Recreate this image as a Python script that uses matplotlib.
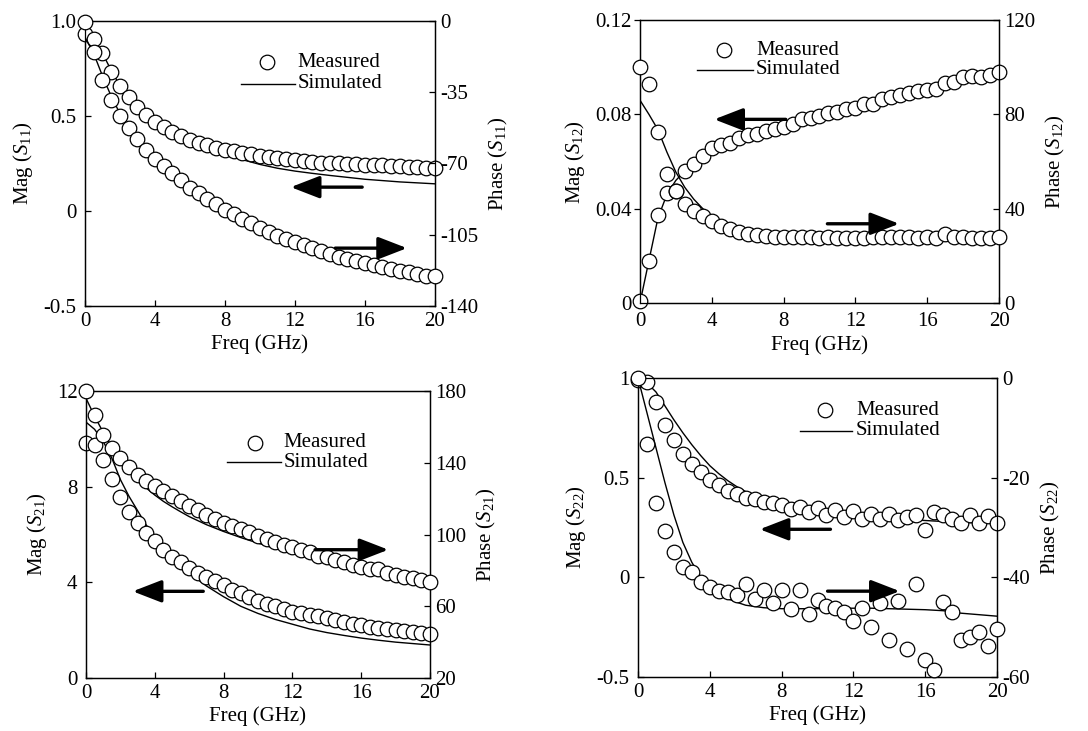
import numpy as np
import matplotlib
matplotlib.use('Agg')
import matplotlib.pyplot as plt

plt.rcParams['font.family'] = ['Liberation Serif', 'DejaVu Serif']
plt.rcParams['mathtext.fontset'] = 'custom'
plt.rcParams['mathtext.rm'] = 'Liberation Serif'
plt.rcParams['mathtext.it'] = 'Liberation Serif:italic'
plt.rcParams['axes.unicode_minus'] = False

# ---------------- data ----------------
freq = [0, 0.5, 1, 1.5, 2, 2.5, 3, 3.5, 4, 4.5, 5, 5.5, 6, 6.5, 7, 7.5, 8, 8.5, 9, 9.5,
        10, 10.5, 11, 11.5, 12, 12.5, 13, 13.5, 14, 14.5, 15, 15.5, 16, 16.5, 17, 17.5,
        18, 18.5, 19, 19.5, 20]
x_ticks = [0, 4, 8, 12, 16, 20]
x_labels = ['0', '4', '8', '12', '16', '20']

# S11
s11_mag_meas = [0.93, 0.904, 0.83, 0.729, 0.656, 0.60, 0.547, 0.503, 0.467, 0.442, 0.414,
                0.393, 0.376, 0.358, 0.346, 0.332, 0.323, 0.315, 0.306, 0.299, 0.292, 0.285,
                0.281, 0.276, 0.269, 0.264, 0.259, 0.255, 0.253, 0.250, 0.248, 0.246, 0.243,
                0.241, 0.240, 0.238, 0.236, 0.233, 0.231, 0.227, 0.227]
s11_ph_meas = [-0.3, -15.3, -28.9, -38.7, -46.5, -52.5, -57.9, -63.6, -67.7, -71.3, -74.9,
               -78.3, -81.9, -84.4, -87.6, -90.1, -92.8, -95.0, -97.4, -99.4, -101.6, -103.6,
               -105.6, -107.2, -108.8, -110.1, -111.6, -112.9, -114.5, -115.7, -117.0, -118.1,
               -119.1, -119.9, -120.9, -121.9, -122.7, -123.5, -124.3, -125.1, -125.5]
s11_sim_f = [0, 0.5, 1, 1.5, 2, 2.5, 3, 3.5, 4, 5, 6, 7, 8, 9, 10, 11, 12, 13, 14, 15, 16, 17, 18, 19, 20]
s11_mag_sim = [0.95, 0.90, 0.83, 0.74, 0.66, 0.60, 0.545, 0.50, 0.465, 0.41, 0.37, 0.34, 0.305,
               0.27, 0.245, 0.225, 0.21, 0.198, 0.187, 0.177, 0.167, 0.160, 0.153, 0.148, 0.143]
s11_ph_sim = [-8, -16, -27, -37, -45.5, -52, -57.5, -63, -67.5, -75, -82, -87.6, -93, -97.5,
              -102, -105.5, -109, -112, -115, -117.5, -119.5, -121.3, -123, -124.5, -126]

# S12
s12_mag_meas = [0.0007, 0.0178, 0.0374, 0.0465, 0.0475, 0.0560, 0.0590, 0.0625, 0.0657, 0.0668,
                0.0680, 0.0699, 0.0713, 0.0717, 0.0730, 0.0738, 0.0748, 0.0760, 0.0779, 0.0784,
                0.0793, 0.0805, 0.0812, 0.0822, 0.0826, 0.0843, 0.0843, 0.0865, 0.0875, 0.0882,
                0.0892, 0.0897, 0.0904, 0.0906, 0.0932, 0.0939, 0.0957, 0.0963, 0.0960, 0.0967,
                0.0981]
s12_ph_meas = [100.2, 92.8, 72.4, 54.8, 47.3, 42.1, 39.2, 37.0, 34.6, 32.8, 31.3, 30.1, 29.4,
               28.8, 28.5, 28.2, 28.2, 28.1, 28.0, 27.8, 27.4, 27.8, 27.5, 27.5, 27.5, 27.7,
               28.2, 28.2, 28.2, 28.1, 28.1, 27.7, 28.0, 27.7, 29.2, 28.2, 28.2, 27.5, 27.5,
               27.5, 28.0]
s12_sim_f = [0, 0.5, 1, 1.5, 2, 2.5, 3, 3.5, 4, 5, 6, 7, 8, 10, 12, 14, 16, 18, 20]
s12_mag_sim = [0.0, 0.018, 0.036, 0.046, 0.052, 0.056, 0.059, 0.062, 0.065, 0.069, 0.071, 0.073,
               0.075, 0.079, 0.083, 0.087, 0.090, 0.094, 0.097]
s12_ph_sim = [86, 80, 73.5, 64, 55.5, 49, 44, 40, 37, 33, 30.5, 29, 28.3, 28, 28, 28, 28, 28, 28]

# S21
s21_mag_meas = [9.81, 9.75, 9.12, 8.31, 7.55, 6.96, 6.47, 6.06, 5.71, 5.36, 5.08, 4.84, 4.62,
                4.38, 4.22, 4.07, 3.87, 3.69, 3.55, 3.37, 3.23, 3.09, 2.99, 2.88, 2.78, 2.71,
                2.62, 2.58, 2.51, 2.44, 2.34, 2.27, 2.20, 2.13, 2.09, 2.05, 2.02, 1.98, 1.92,
                1.87, 1.84]
s21_ph_meas = [180, 166.6, 155.5, 148.4, 142.5, 137.9, 133.2, 130.1, 127.1, 124.3, 121.5, 118.7,
               116.1, 113.4, 111.0, 108.7, 106.3, 104.5, 103.0, 101.3, 99.3, 97.6, 95.7, 94.2,
               92.8, 91.3, 90.0, 88.1, 87.2, 85.9, 84.6, 82.9, 81.8, 80.9, 80.7, 78.8, 77.5,
               76.4, 75.5, 74.8, 73.8]
s21_sim_f = [0, 0.5, 1, 1.5, 2, 2.5, 3, 3.5, 4, 4.5, 5, 5.5, 6, 7, 8, 9, 10, 11, 12, 13, 14,
             15, 16, 17, 18, 19, 20]
s21_mag_sim = [10.7, 10.4, 9.9, 9.2, 8.3, 7.6, 7.0, 6.4, 5.9, 5.45, 5.05, 4.7, 4.4, 3.85, 3.4,
               3.0, 2.7, 2.45, 2.25, 2.05, 1.9, 1.78, 1.67, 1.58, 1.5, 1.44, 1.38]
s21_ph_sim = [176, 166, 157, 149, 142, 136, 130.5, 126, 122, 118.5, 115.5, 112.7, 110, 105.5,
              101.7, 98.3, 95.2, 92.3, 89.6, 87.6, 86.2, 84.5, 82.4, 80.4, 78.5, 76.4, 74.3]

# S22
s22_mag_meas = [0.988, 0.98, 0.88, 0.766, 0.687, 0.62, 0.567, 0.528, 0.487, 0.462, 0.431,
                0.42, 0.40, 0.395, 0.378, 0.375, 0.361, 0.344, 0.353, 0.328, 0.348, 0.311,
                0.339, 0.303, 0.333, 0.294, 0.316, 0.291, 0.319, 0.286, 0.303, 0.311, 0.236,
                0.328, 0.311, 0.291, 0.273, 0.311, 0.274, 0.306, 0.274]
s22_ph_meas = [-0.1, -13.2, -25.0, -30.7, -34.9, -37.9, -38.9, -40.9, -41.9, -42.8, -42.9,
               -43.5, -41.3, -44.3, -42.6, -45.2, -42.6, -46.4, -42.6, -47.3, -44.6, -45.8,
               -46.2, -47.0, -48.8, -46.1, -50.0, -45.2, -52.6, -44.8, -54.3, -41.3, -56.5,
               -58.5, -45.0, -47.0, -52.6, -52.0, -51.0, -53.7, -50.3]
s22_sim_f = [0, 0.5, 1, 1.5, 2, 2.5, 3, 3.5, 4, 4.5, 5, 5.5, 6, 7, 8, 9, 10, 11, 12, 13, 14,
             15, 16, 17, 18, 19, 20]
s22_mag_sim = [1.0, 0.975, 0.93, 0.86, 0.79, 0.725, 0.665, 0.61, 0.56, 0.52, 0.485, 0.455,
               0.43, 0.393, 0.365, 0.345, 0.33, 0.318, 0.31, 0.303, 0.297, 0.29, 0.285, 0.28,
               0.276, 0.273, 0.27]
s22_ph_sim = [0, -7, -14, -21, -27.5, -33, -37, -40, -42, -43.3, -44.3, -45.0, -45.6, -46.1,
              -46.3, -46.3, -46.3, -46.2, -46.2, -46.2, -46.3, -46.4, -46.5, -46.7, -47.2,
              -47.5, -47.8]

panels = [
    dict(rect=[0.0781, 0.5814, 0.3217, 0.3899], name='11', ldir='in', xpad=4,
         mag=s11_mag_meas, ph=s11_ph_meas, sf=s11_sim_f, msim=s11_mag_sim, psim=s11_ph_sim,
         mlim=(-0.5, 1.0), mticks=[-0.5, 0, 0.5, 1.0], mlabels=['-0.5', '0', '0.5', '1.0'],
         plim=(-140, 0), pticks=[-140, -105, -70, -35, 0], plabels=['-140', '-105', '-70', '-35', '0'],
         leg=(0.519, 0.855, 0.607, 0.445, 0.599, 0.78),
         arrows=[((0.792, 0.417), (0.588, 0.417)), ((0.715, 0.203), (0.92, 0.203))]),
    dict(rect=[0.5882, 0.5855, 0.33, 0.3871], name='12', ldir='out', xpad=6.5,
         mag=s12_mag_meas, ph=s12_ph_meas, sf=s12_sim_f, msim=s12_mag_sim, psim=s12_ph_sim,
         mlim=(0, 0.12), mticks=[0, 0.04, 0.08, 0.12], mlabels=['0', '0.04', '0.08', '0.12'],
         plim=(0, 120), pticks=[0, 40, 80, 120], plabels=['0', '40', '80', '120'],
         leg=(0.235, 0.894, 0.323, 0.16, 0.314, 0.824),
         arrows=[((0.406, 0.649), (0.207, 0.649)), ((0.522, 0.28), (0.722, 0.28))]),
    dict(rect=[0.079, 0.0725, 0.3162, 0.3926], name='21', ldir='in', xpad=4,
         mag=s21_mag_meas, ph=s21_ph_meas, sf=s21_sim_f, msim=s21_mag_sim, psim=s21_ph_sim,
         mlim=(0, 12), mticks=[0, 4, 8, 12], mlabels=['0', '4', '8', '12'],
         plim=(20, 180), pticks=[20, 60, 100, 140, 180], plabels=['20', '60', '100', '140', '180'],
         leg=(0.491, 0.82, 0.574, 0.411, 0.566, 0.752),
         arrows=[((0.666, 0.447), (0.879, 0.447)), ((0.341, 0.302), (0.136, 0.302))]),
    dict(rect=[0.5864, 0.0739, 0.33, 0.409], name='22', ldir='in', xpad=4,
         mag=s22_mag_meas, ph=s22_ph_meas, sf=s22_sim_f, msim=s22_mag_sim, psim=s22_ph_sim,
         mlim=(-0.5, 1.0), mticks=[-0.5, 0, 0.5, 1.0], mlabels=['-0.5', '0', '0.5', '1'],
         plim=(-60, 0), pticks=[-60, -40, -20, 0], plabels=['-60', '-40', '-20', '0'],
         leg=(0.52, 0.892, 0.607, 0.45, 0.596, 0.823),
         arrows=[((0.536, 0.494), (0.339, 0.494)), ((0.528, 0.287), (0.729, 0.287))]),
]

FS = 15
fig = plt.figure(figsize=(10.88, 7.31), dpi=100)

for p in panels:
    ax = fig.add_axes(p['rect'])
    ax2 = ax.twinx()
    lw_line = 1.0
    mk = dict(marker='o', ms=10.5, mfc='white', mec='black', mew=0.9, ls='none')

    ax.plot(p['sf'], p['msim'], color='black', lw=lw_line, zorder=2)
    ax.plot(freq, p['mag'], zorder=3, clip_on=False, **mk)
    ax2.plot(p['sf'], p['psim'], color='black', lw=lw_line, zorder=2)
    ax2.plot(freq, p['ph'], zorder=3, clip_on=False, **mk)

    ax.set_xlim(0, 20)
    ax.set_ylim(*p['mlim'])
    ax2.set_ylim(*p['plim'])
    ax.set_xticks(x_ticks)
    ax.set_xticklabels(x_labels, fontsize=FS)
    ax.set_yticks(p['mticks'])
    ax.set_yticklabels(p['mlabels'], fontsize=FS)
    ax2.set_yticks(p['pticks'])
    ax2.set_yticklabels(p['plabels'], fontsize=FS)

    for a in (ax, ax2):
        for s in a.spines.values():
            s.set_linewidth(0.9)
    ax.tick_params(axis='x', direction='in', length=4, width=0.9, pad=p['xpad'], top=False)
    if p['ldir'] == 'in':
        ax.tick_params(axis='y', direction='in', length=4, width=0.9, pad=6)
    else:
        ax.tick_params(axis='y', direction='out', length=4, width=0.9, pad=2)
    ax2.tick_params(axis='y', direction='in', length=4, width=0.9, pad=4)

    ax.set_xlabel('Freq (GHz)', fontsize=FS, labelpad=3)
    ax.set_ylabel(r'Mag ($\mathit{S}_{%s}$)' % p['name'], fontsize=FS, labelpad=6)
    ax2.set_ylabel(r'Phase ($\mathit{S}_{%s}$)' % p['name'], fontsize=FS, rotation=90,
                   labelpad=6)

    cx, cy, tx, lx0, lx1, ly = p['leg']
    ax2.plot([cx], [cy], transform=ax2.transAxes, clip_on=False, **mk)
    ax2.text(tx, cy, 'Measured', transform=ax2.transAxes, fontsize=FS, va='center', ha='left')
    ax2.plot([lx0, lx1], [ly, ly], transform=ax2.transAxes, color='black', lw=lw_line)
    ax2.text(tx, ly, 'Simulated', transform=ax2.transAxes, fontsize=FS, va='center', ha='left')

    for tail, tip in p['arrows']:
        ax2.annotate('', xy=tip, xytext=tail, xycoords='axes fraction',
                     textcoords='axes fraction', zorder=5,
                     arrowprops=dict(arrowstyle='-|>,head_length=1.6,head_width=0.62',
                                     mutation_scale=11, lw=2.4, color='black',
                                     shrinkA=0, shrinkB=0))

fig.savefig('out.png', dpi=100)
